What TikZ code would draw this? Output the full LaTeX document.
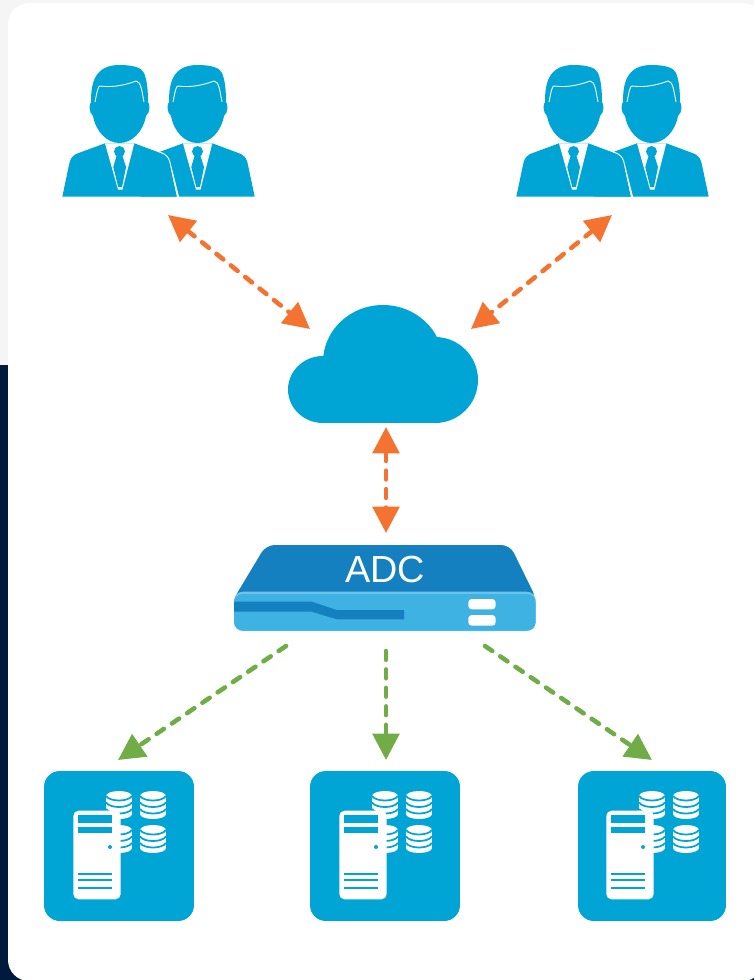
\documentclass[tikz,border=0pt]{standalone}
\usepackage{fontspec}
\setmainfont{Liberation Sans}
\usetikzlibrary{arrows.meta}
\definecolor{iconblue}{HTML}{00A5D6}
\definecolor{adcdark}{HTML}{1580BF}
\definecolor{adclight}{HTML}{3DB2E3}
\definecolor{adcedge}{HTML}{6CC3E9}
\definecolor{navyback}{HTML}{001A3D}
\definecolor{paleback}{HTML}{F5F5F5}
\definecolor{linkorange}{HTML}{F47330}
\definecolor{linkgreen}{HTML}{70AD47}
\begin{document}
\begin{tikzpicture}[x=0.02cm,y=-0.02cm,
    iconbox/.style={inner sep=0pt, outer sep=0pt},
    tile/.style={iconbox, fill=iconblue, rounded corners=9pt},
    dashlink/.style={line width=2.6pt, line cap=round, dash pattern=on 5pt off 5.5pt},
    twoway/.style={dashlink, linkorange, {Triangle[length=15pt,width=15pt]}-{Triangle[length=15pt,width=15pt]}},
    oneway/.style={dashlink, linkgreen, -{Triangle[length=15pt,width=15pt]}}]
\useasboundingbox (0,0) rectangle (754,980);
\fill[paleback] (0,0) rectangle (754,365);
\fill[navyback] (0,365) rectangle (754,980);
\fill[white, rounded corners=12pt] (8,3) rectangle (764,981);

\foreach \name/\s in {A/0,B/454}
{
\node[iconbox, minimum width=3.86cm, minimum height=2.64cm] (users\name) at ({158.5+\s},131) {};
\begin{scope}[shift={(\s,0)}]
    \foreach \p in {78,0}
    {
    \begin{scope}[shift={(\p,0)}]
        \fill[iconblue] (119.5,65) .. controls (134,65) and (142,68) .. (144,73)
            .. controls (147,80) and (148,90) .. (148,102)
            .. controls (150,104) and (150.5,112) .. (146,116)
            .. controls (143,132) and (132,143) .. (119.5,143)
            .. controls (107,143) and (96,132) .. (93,116)
            .. controls (88.5,112) and (89,104) .. (91,102)
            .. controls (91,84) and (94,65) .. (119.5,65) -- cycle;
        \draw[white, line width=0.5pt] (95,102) .. controls (97,92) and (98,86) .. (100,86)
            .. controls (115,88) and (128,84) .. (136,81)
            .. controls (141,81) and (142,92) .. (144,102);
        \fill[iconblue] (105,143.3) -- (76,154) .. controls (71,157) and (70,160) .. (69,165) -- (62.3,196.7) -- (176.7,196.7)
            -- (170,165) .. controls (169,160) and (168,157) .. (163,154) -- (134.3,143.3) -- cycle;
        \fill[white] (105,143.3) -- (118,189.5) -- (122.5,189.5) -- (134.3,143.3) -- cycle;
        \fill[iconblue] (119.5,151.5) circle[radius=5.5];
        \fill[iconblue] (116.5,156) -- (113.3,167) -- (118.3,187) -- (122,187) -- (126,167) -- (122.5,156) -- cycle;
    \end{scope}
    \ifnum\p=78
    \draw[white, line width=1.2pt] (158,152) -- (163,154) .. controls (168,157) and (169,160) .. (170,165) -- (178,197);
    \fi
    }
\end{scope}
}

\node[iconbox, minimum width=3.8cm, minimum height=2.36cm] (cloud) at (383,364) {};
\fill[iconblue] (323,389.5) ellipse[x radius=35, y radius=33.5];
\fill[iconblue] (383,362) ellipse[x radius=60, y radius=57];
\fill[iconblue] (435,380) circle[radius=43];
\fill[iconblue] (323,370) rectangle (435,423);

\node[iconbox, minimum width=6.04cm, minimum height=1.72cm] (adc) at (385,588) {};
\fill[adcdark, rounded corners=5pt] (233,600) -- (266,545) -- (510,545) -- (537,600) -- cycle;
\fill[adcedge, rounded corners=5pt] (234,631) rectangle (535.7,591.7);
\fill[adclight, rounded corners=5pt] (234,630.5) rectangle (535.7,594);
\fill[adcdark] (234,601.7) -- (311.7,601.7) -- (336.7,610) -- (404,610) -- (404,619.3)
    -- (336.7,619.3) -- (311.7,611.7) -- (234,611.7) -- cycle;
\fill[white, rounded corners=2pt] (468.3,599) rectangle (495.7,609.3);
\fill[white, rounded corners=2pt] (468.3,615) rectangle (495.7,625.7);
\node[iconbox, white, font=\fontsize{21.5}{21.5}\selectfont] (adclabel) at (385,569.5) {ADC};

\foreach \name/\s/\w in {A/0/3cm,B/266/3cm,C/533/2.96cm}
{
\node[tile, minimum width=\w, minimum height=3cm] (server\name) at ({119+\s},846) {};
\begin{scope}[shift={(\s,0)}]
    \foreach \x/\y in {106/791,140/791,106/825,140/825}
    {
    \begin{scope}[shift={(\x,\y)}]
        \fill[white] (13,5) ellipse[x radius=13, y radius=5];
        \fill[white] (13,23) ellipse[x radius=13, y radius=5];
        \fill[white] (0,5) rectangle (26,23);
        \foreach \d in {5,11.5,18}
        {
        \draw[iconblue, line width=1pt] (0,\d) .. controls (4,{\d+6}) and (22,{\d+6}) .. (26,\d);
        }
    \end{scope}
    }
    \fill[white, rounded corners=3pt] (73.3,810.7) rectangle (120.7,899.3);
    \fill[iconblue] (78,815) rectangle (112,823);
    \fill[iconblue] (78,827) rectangle (112,833);
    \fill[iconblue] (110,847) circle[radius=2];
    \foreach \y in {874,880,888}
    {
    \fill[iconblue] (78,{\y-1}) rectangle (112,{\y+1});
    }
\end{scope}
}

\draw[twoway] ([shift={(9.5,18)}]usersA.south) -- ([shift={(22,24)}]cloud.north west);
\draw[twoway] ([shift={(-0.5,18)}]usersB.south) -- ([shift={(-7,24)}]cloud.north east);
\draw[twoway] ([shift={(3,4)}]cloud.south) -- ([shift={(1,-12)}]adc.north);
\draw[oneway] ([shift={(-99,15)}]adc.south) -- ([shift={(-1,-11)}]serverA.north);
\draw[oneway] ([shift={(1,20)}]adc.south) -- ([shift={(1,-11)}]serverB.north);
\draw[oneway] ([shift={(100,15)}]adc.south) -- ([shift={(0,-11)}]serverC.north);
\end{tikzpicture}
\end{document}
